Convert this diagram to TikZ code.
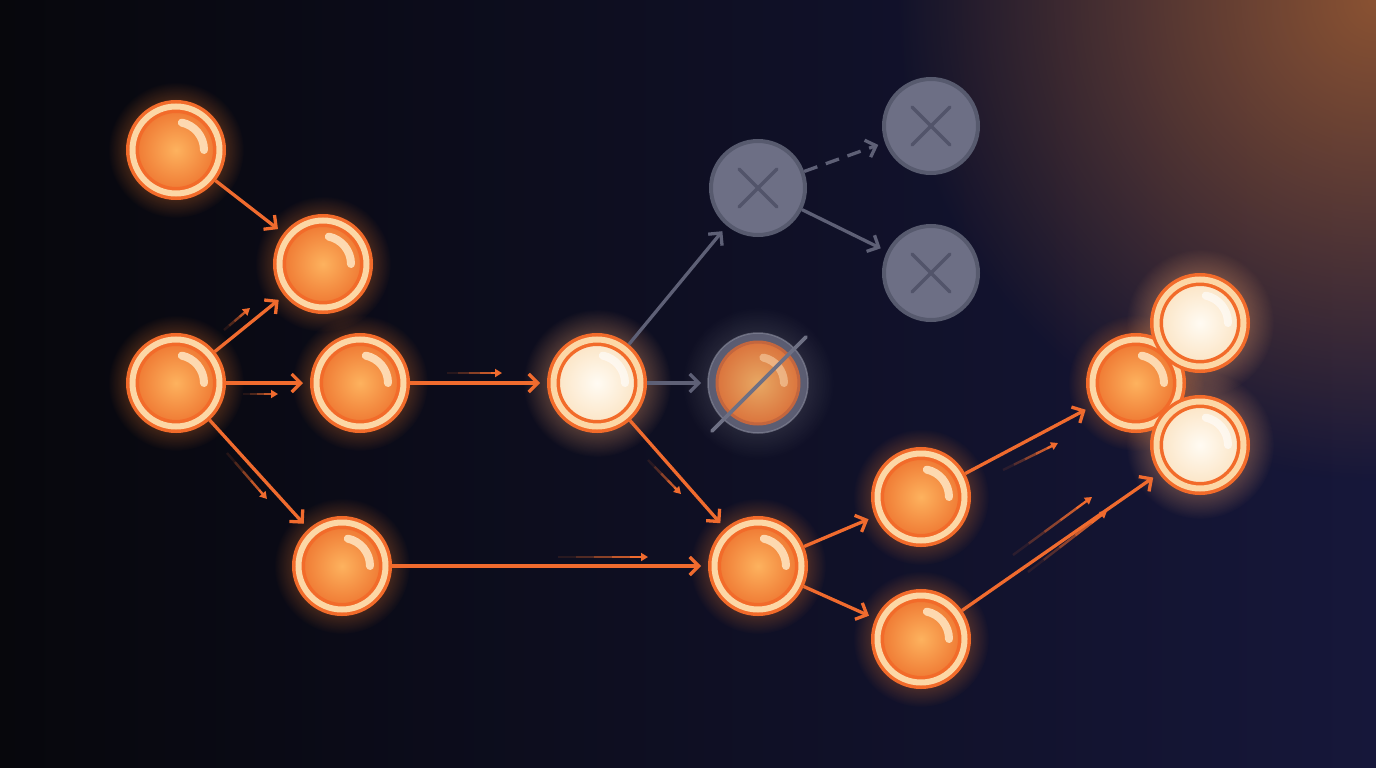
\documentclass[tikz,border=0pt]{standalone}
\usetikzlibrary{arrows.meta,fadings,calc}
\definecolor{bgL}{HTML}{07070C}
\definecolor{bgM}{HTML}{0C0F30}
\definecolor{bgR}{HTML}{16173A}
\definecolor{warm}{HTML}{8A5232}
\definecolor{ringO}{HTML}{F26B2A}
\definecolor{ringC}{HTML}{FCD7A6}
\definecolor{ballIn}{HTML}{FDB25E}
\definecolor{ballOut}{HTML}{EE7530}
\definecolor{creamIn}{HTML}{FFFBF3}
\definecolor{creamOut}{HTML}{FBE3C2}
\definecolor{edgeO}{HTML}{F06B2E}
\definecolor{glowO}{HTML}{F27A2A}
\definecolor{grayF}{HTML}{6D6F85}
\definecolor{grayB}{HTML}{575A6E}
\definecolor{grayX}{HTML}{52546A}
\definecolor{grayE}{HTML}{5E6076}
\definecolor{hlC}{HTML}{FFE7C4}
\tikzfading[name=glowfade, inner color=transparent!15, outer color=transparent!100]
\tikzfading[name=warmfade, inner color=transparent!0, outer color=transparent!100]
\newcommand\motionline[2]{%
  \foreach \a/\b/\o in {0/0.2/0.12,0.2/0.4/0.3,0.4/0.6/0.55,0.6/0.8/0.8}{%
    \draw[mseg,opacity=\o] ($#1!\a!#2$) -- ($#1!\b!#2$);}
  \draw[mseg,-{Triangle[length=7pt,width=8pt]}] ($#1!0.8!#2$) -- #2;}
\begin{document}
\begin{tikzpicture}[x=1pt,y=-1pt,
  ball/.style={circle, minimum size=87pt, inner sep=0pt, outer sep=6.5pt,
    draw=ringO, double=ringC, double distance=6pt, line width=3.5pt,
    inner color=ballIn, outer color=ballOut},
  cball/.style={ball, inner color=creamIn, outer color=creamOut},
  xball/.style={circle, minimum size=94pt, inner sep=0pt, outer sep=2pt,
    fill=grayF, draw=grayB, line width=4pt},
  dball/.style={circle, minimum size=82pt, inner sep=0pt, outer sep=9pt,
    inner color=ballIn!85!grayF, outer color=ballOut!85!grayF, draw=ringO!70!grayB, line width=3pt},
  edge/.style={draw=edgeO, line width=3.3pt, shorten >=7pt,
    -{Straight Barb[length=9pt,width=18pt]}},
  gedge/.style={draw=grayE, line width=3.3pt, shorten >=7pt,
    -{Straight Barb[length=9pt,width=18pt]}},
  mseg/.style={draw=edgeO, line width=2.4pt},
  hl/.style={draw=hlC, line width=8pt, line cap=round, opacity=.85},
  xmark/.style={draw=grayX, line width=3.5pt, line cap=round},
]
\useasboundingbox (0,0) rectangle (1376,768);
% background
\shade[left color=bgL, middle color=bgM, right color=bgR] (0,0) rectangle (1376,768);
\fill[warm, path fading=warmfade] (1376,0) circle[radius=480pt];
% positions
\foreach \n/\x/\y in {A/176/150,B/323/264,C/176/383,D/360/383,E/342/566,F/597/383,
  G/758/188,H/931/126,I/931/273,J/758/383,K/758/566,L/921/497,M/921/639,
  N/1136/383,O/1200/323,P/1200/445}
  \coordinate (p\n) at (\x,\y);
% glows
\foreach \n in {A,B,C,D,E,K,L,M,N}
  \fill[glowO, path fading=glowfade] (p\n) circle[radius=68pt];
\foreach \n in {F,O,P}
  \fill[glowO!70!white, path fading=glowfade] (p\n) circle[radius=74pt];
\fill[gray!60!white, path fading=glowfade, opacity=.45] (pJ) circle[radius=76pt];
% nodes
\node[ball] (A) at (pA) {};
\node[ball] (B) at (pB) {};
\node[ball] (C) at (pC) {};
\node[ball] (D) at (pD) {};
\node[ball] (E) at (pE) {};
\node[cball] (F) at (pF) {};
\node[xball] (G) at (pG) {};
\node[xball] (H) at (pH) {};
\node[xball] (I) at (pI) {};
\fill[grayF, opacity=.75] (pJ) circle[radius=50pt];
\draw[grayF!80!white, line width=1.5pt, opacity=.6] (pJ) circle[radius=50pt];
\node[dball] (J) at (pJ) {};
\node[ball] (K) at (pK) {};
\node[ball] (L) at (pL) {};
\node[ball] (M) at (pM) {};
\node[ball] (N) at (pN) {};
\node[cball] (O) at (pO) {};
\node[cball] (P) at (pP) {};
% X marks
\foreach \n in {G,H,I}{
  \draw[xmark] ([shift={(-19pt,-19pt)}]\n.center) -- ([shift={(19pt,19pt)}]\n.center);
  \draw[xmark] ([shift={(-19pt,19pt)}]\n.center) -- ([shift={(19pt,-19pt)}]\n.center);
}
% highlights
\foreach \n in {A,B,C,D,E,K,L,M,N}
  \draw[hl] ([shift={(78:28pt)}]\n.center) arc[start angle=78, end angle=0, radius=28pt];
\foreach \n in {F,O,P}
  \draw[hl, draw=white, opacity=.6] ([shift={(78:28pt)}]\n.center) arc[start angle=78, end angle=0, radius=28pt];
\draw[hl, opacity=.45] ([shift={(78:26pt)}]J.center) arc[start angle=78, end angle=0, radius=26pt];
% slash over J
\draw[draw=grayE!90!white, line width=3.8pt, line cap=round] (806,337) -- (712,431);
% connectors
\draw[edge] (A) -- (B);
\draw[edge] (C) -- (B);
\draw[edge] (C) -- (D);
\draw[edge] (C) -- (E);
\draw[edge] (D) -- (F);
\draw[edge] (E) -- (K);
\draw[edge] (F) -- (K);
\draw[edge] (K) -- (L);
\draw[edge] (K) -- (M);
\draw[edge] (L) -- (N);
\draw[edge] (M) -- (P);
\draw[gedge] (F) -- (G);
\draw[gedge] (F) -- (J);
\draw[gedge, dash pattern=on 14pt off 9pt] (G) -- (H);
\draw[gedge] (G) -- (I);
% motion lines
\motionline{(224,330)}{(250,308)}
\motionline{(243,394)}{(278,394)}
\motionline{(227,453)}{(267,499)}
\motionline{(447,373)}{(502,373)}
\motionline{(648,460)}{(681,494)}
\motionline{(558,557)}{(648,557)}
\motionline{(1003,470)}{(1058,443)}
\motionline{(1013,555)}{(1092,497)}
\motionline{(1028,572)}{(1107,511)}
\end{tikzpicture}
\end{document}
